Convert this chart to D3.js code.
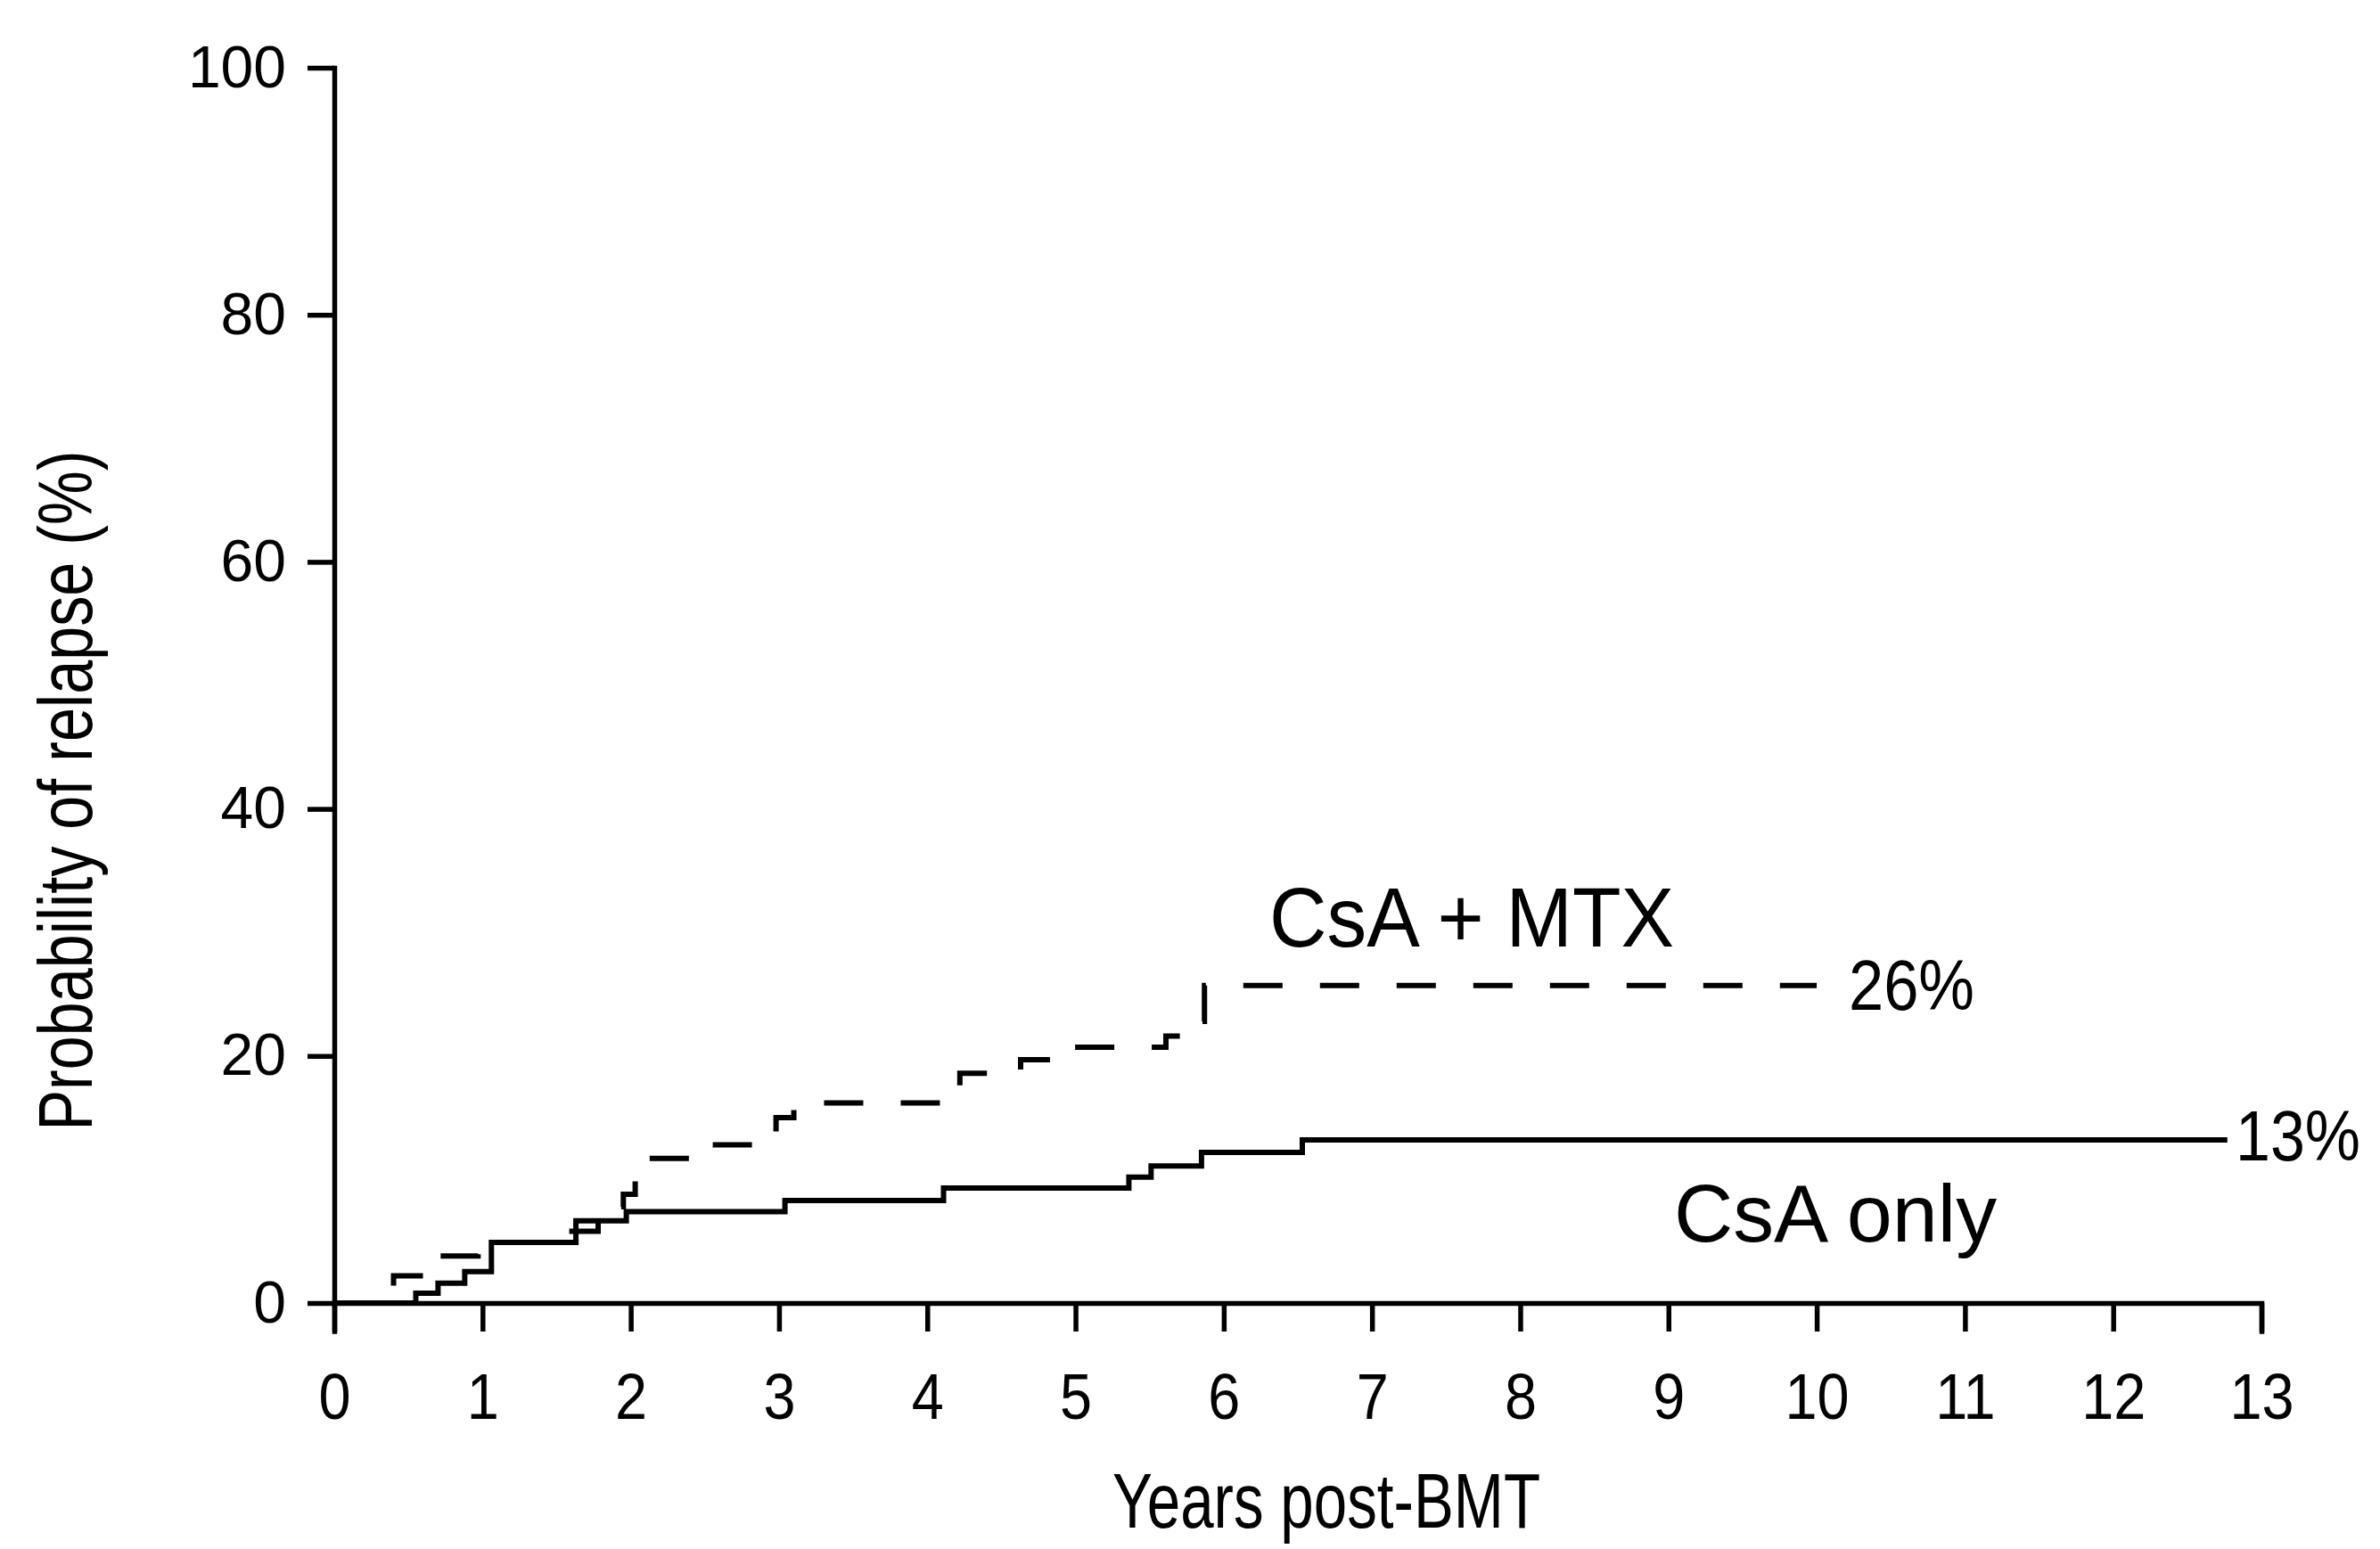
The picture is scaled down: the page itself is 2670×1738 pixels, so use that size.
<!DOCTYPE html>
<html>
<head>
<meta charset="utf-8">
<script src="https://cdn.jsdelivr.net/npm/d3@7"></script>
<style>
  body { margin: 0; background: #fff; }
  text { font-family: "Liberation Sans", Arial, Helvetica, sans-serif; fill: #000; }
</style>
</head>
<body>
<svg id="chart"></svg>
<script>
const width = 2670;
const height = 1738;

// axis ticks
const xTicks = d3.range(0, 14);
const yTicks = [0, 20, 40, 60, 80, 100];

// CsA + MTX (dashed step curve), years post-BMT vs % relapse
const mtxYears = [0, 0.25, 0.40, 0.63, 0.97, 1.42, 1.78, 1.95, 2.03, 2.53, 2.98, 3.10, 4.10, 4.22, 4.63, 4.92, 5.61, 5.80, 5.87, 10.0];
const mtxProb  = [0, 1.1, 2.2, 3.8, 4.9, 5.8, 7.8, 8.8, 11.7, 12.8, 15.0, 16.2, 17.2, 18.6, 19.7, 20.7, 21.6, 22.8, 25.7, 25.7];

// CsA only (solid step curve)
const csaYears = [0, 0.55, 0.70, 0.88, 1.06, 1.63, 1.97, 3.04, 4.11, 5.36, 5.51, 5.85, 6.53, 12.77];
const csaProb  = [0, 0.8, 1.6, 2.55, 4.9, 6.65, 7.4, 8.3, 9.3, 10.2, 11.1, 12.2, 13.2, 13.2];

const svg = d3.select("#chart")
    .attr("width", width)
    .attr("height", height);

const x = d3.scaleLinear().domain([0, 13]).range([375, 2537]);
const y = d3.scaleLinear().domain([0, 100]).range([1462, 76]);

// x axis
const xAxis = svg.append("g")
    .attr("transform", `translate(0,${y(0)})`)
    .call(d3.axisBottom(x).tickValues(xTicks).tickSize(32).tickPadding(47).tickFormat(d3.format("d")));

// y axis
const yAxis = svg.append("g")
    .attr("transform", `translate(${x(0)},0)`)
    .call(d3.axisLeft(y).tickValues(yTicks).tickSize(30).tickPadding(24).tickSizeOuter(0));

[xAxis, yAxis].forEach(g => {
    g.selectAll("path, line").attr("stroke", "#000").attr("stroke-width", 5.5);
    g.select(".domain").attr("stroke-linecap", "square");
});
xAxis.selectAll("text").style("font-size", "72px").attr("fill", "#000")
    .attr("transform", "scale(0.9,1)");
yAxis.selectAll("text").style("font-size", "66px").attr("fill", "#000");

// curves
const line = d3.line()
    .x(d => x(d[0]))
    .y(d => y(d[1]))
    .curve(d3.curveStepAfter);

const mtxData = mtxYears.map((t, i) => [t, mtxProb[i]]);
const csaData = csaYears.map((t, i) => [t, csaProb[i]]);

svg.append("path")
    .datum(csaData)
    .attr("d", line)
    .attr("fill", "none")
    .attr("stroke", "#000")
    .attr("stroke-width", 6);

svg.append("path")
    .datum(mtxData)
    .attr("d", line)
    .attr("fill", "none")
    .attr("stroke", "#000")
    .attr("stroke-width", 6)
    .attr("stroke-dasharray", "44,42");

// labels
function label(txt, xPos, yPos, size, len) {
    svg.append("text")
        .attr("x", xPos)
        .attr("y", yPos)
        .attr("textLength", len)
        .attr("lengthAdjust", "spacingAndGlyphs")
        .style("font-size", size + "px")
        .text(txt);
}

label("CsA + MTX", 1424, 1062, 94, 454);
label("26%", 2074, 1133, 80, 141);
label("13%", 2508, 1302, 80, 140);
label("CsA only", 1878, 1393, 90, 362);
label("Years post-BMT", 1248, 1714, 88, 480);

// y axis title
svg.append("text")
    .attr("transform", "translate(103,887) rotate(-90)")
    .attr("text-anchor", "middle")
    .attr("textLength", 763)
    .attr("lengthAdjust", "spacingAndGlyphs")
    .style("font-size", "85px")
    .text("Probability of relapse (%)");
</script>
</body>
</html>
